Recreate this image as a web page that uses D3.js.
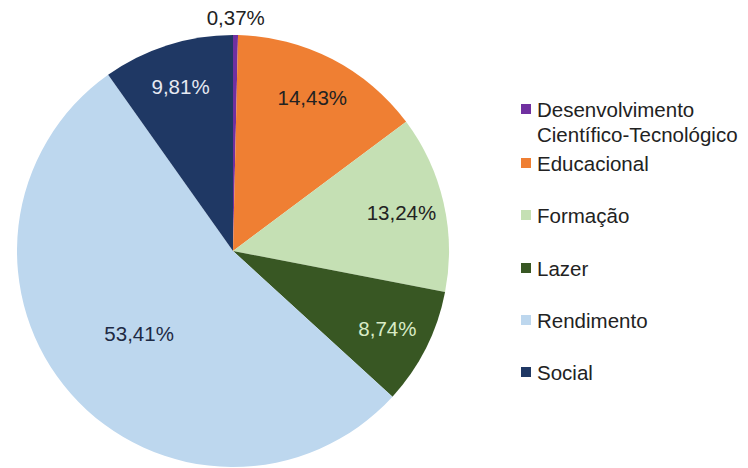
<!DOCTYPE html>
<html>
<head>
<meta charset="UTF-8">
<script src="https://cdn.jsdelivr.net/npm/d3@7"></script>
<style>
  body { margin: 0; background: #fff; }
  text { font-family: "Liberation Sans", Arial, sans-serif; }
</style>
</head>
<body>
<div id="chart"></div>
<script>
var categories = ["Desenvolvimento Científico-Tecnológico", "Educacional", "Formação", "Lazer", "Rendimento", "Social"];
var legendLines = [["Desenvolvimento", "Científico-Tecnológico"], ["Educacional"], ["Formação"], ["Lazer"], ["Rendimento"], ["Social"]];
var values = [0.37, 14.43, 13.24, 8.74, 53.41, 9.81];
var colors = ["#7030a0", "#ef7f33", "#c5e0b4", "#385723", "#bdd7ee", "#1f3864"];
var labelColors = ["#222", "#222", "#222", "#d8ebc6", "#1e2a44", "#e6e9f2"];

var W = 748, H = 468, cx = 233, cy = 251, R = 216;

var svg = d3.select("#chart").append("svg").attr("width", W).attr("height", H);
var g = svg.append("g").attr("transform", "translate(" + cx + "," + cy + ")");

var pie = d3.pie().sort(null).value(function(d){ return d; });
var arcs = pie(values);
var arc = d3.arc().innerRadius(0).outerRadius(R);

g.selectAll("path").data(arcs).enter().append("path")
  .attr("d", arc)
  .attr("fill", function(d, i){ return colors[i]; });

function fmt(v){ return v.toFixed(2).replace(".", ",") + "%"; }

g.selectAll("text.lbl").data(arcs).enter().append("text")
  .attr("class", "lbl")
  .attr("text-anchor", "middle")
  .attr("dominant-baseline", "central")
  .attr("font-size", 20.5)
  .attr("fill", function(d, i){ return labelColors[i]; })
  .attr("transform", function(d){
    var share = (d.endAngle - d.startAngle) / (2 * Math.PI);
    var r = share < 0.02 ? R * 1.08 : (share > 0.4 ? R * 0.58 : R * 0.8);
    var a = (d.startAngle + d.endAngle) / 2;
    return "translate(" + (Math.sin(a) * r) + "," + (-Math.cos(a) * r) + ")";
  })
  .text(function(d){ return fmt(d.value); });

// first entry spans two lines, so the rows below it start lower
var rowY = [109, 163, 215, 268, 320, 372];

var lg = svg.append("g");
var item = lg.selectAll("g").data(categories).enter().append("g")
  .attr("transform", function(d, i){ return "translate(521," + rowY[i] + ")"; });
item.append("rect").attr("x", 0).attr("y", -5).attr("width", 10).attr("height", 10)
  .attr("fill", function(d, i){ return colors[i]; });
item.append("text")
  .attr("font-size", 20.5)
  .attr("fill", "#222")
  .attr("dominant-baseline", "central")
  .selectAll("tspan").data(function(d, i){ return legendLines[i]; }).enter().append("tspan")
  .attr("x", 16)
  .attr("dy", function(d, j){ return j === 0 ? 0 : 25; })
  .text(function(d){ return d; });
</script>
</body>
</html>
